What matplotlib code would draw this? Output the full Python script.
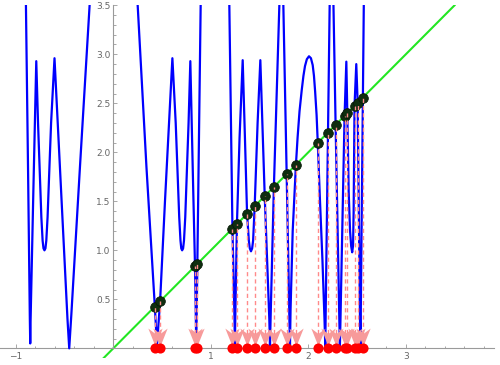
import numpy as np
import matplotlib
matplotlib.use("Agg")
import matplotlib.pyplot as plt
from matplotlib.path import Path
from matplotlib.patches import Rectangle

# ---- data ----
branch_a_x = [-0.896, -0.874, -0.856, -0.852, -0.848, -0.82, -0.79, -0.772, -0.756, -0.738, -0.725,
              -0.716, -0.706, -0.696, -0.687, -0.674, -0.655, -0.638, -0.603, -0.53, -0.47, -0.452,
              -0.43, -0.342, -0.243]
branch_a_y = [3.5, 1.8, 0.3, 0.05, 0.3, 1.6, 2.93, 2.3, 1.85, 1.34, 1.1,
              1.02, 1.0, 1.02, 1.1, 1.34, 1.85, 2.3, 2.96, 1.5, 0.3, 0.0,
              0.35, 1.85, 3.5]

branch_b_x = [0.25, 0.34, 0.426, 0.448, 0.48, 0.53, 0.606, 0.64, 0.657, 0.676, 0.689, 0.697, 0.706,
              0.716, 0.725, 0.738, 0.756, 0.772, 0.79, 0.82, 0.838, 0.851, 0.862, 0.896]
branch_b_y = [3.5, 1.85, 0.426, 0.03, 0.48, 1.5, 2.96, 2.3, 1.85, 1.34, 1.1, 1.02, 1.0,
              1.02, 1.1, 1.34, 1.85, 2.3, 2.93, 1.6, 0.838, 0.03, 0.862, 3.5]

branch_c_x = [1.19, 1.222, 1.243, 1.247, 1.251, 1.268, 1.295, 1.327, 1.35, 1.372, 1.39, 1.40, 1.412,
              1.424, 1.434, 1.45, 1.48, 1.508, 1.553, 1.60, 1.607, 1.613, 1.647, 1.703]
branch_c_y = [3.5, 1.222, 0.3, 0.03, 0.3, 1.268, 2.15, 2.94, 2.15, 1.372, 1.1, 1.02, 0.99,
              1.02, 1.1, 1.45, 2.3, 2.94, 1.553, 0.3, 0.03, 0.3, 1.647, 3.5]

branch_d_x = [1.744, 1.778, 1.806, 1.812, 1.818, 1.84, 1.873, 1.89, 1.91, 1.932, 1.95, 1.966,
              1.985, 2.007, 2.027, 2.045, 2.058, 2.07, 2.085, 2.097, 2.12, 2.145, 2.166, 2.174,
              2.18, 2.202, 2.219]
branch_d_y = [3.5, 1.778, 0.3, 0.03, 0.4, 1.2, 1.873, 2.15, 2.42, 2.63, 2.78, 2.88,
              2.95, 2.98, 2.96, 2.89, 2.78, 2.62, 2.38, 2.097, 1.5, 0.9, 0.3, 0.03,
              0.5, 2.202, 3.5]

branch_e_x = [2.258, 2.28, 2.318, 2.324, 2.33, 2.372, 2.39, 2.40, 2.414, 2.428, 2.44, 2.45,
              2.459, 2.465, 2.474, 2.492, 2.506, 2.53, 2.535, 2.569]
branch_e_y = [3.5, 2.28, 0.3, 0.03, 0.3, 2.372, 2.925, 2.40, 1.6, 1.2, 1.04, 0.98,
              1.05, 1.4, 2.474, 2.9, 2.506, 0.3, 0.03, 3.5]

fixed_points = [0.426, 0.48, 0.838, 0.862, 1.222, 1.268, 1.372, 1.45, 1.553, 1.647,
                1.778, 1.873, 2.097, 2.202, 2.28, 2.372, 2.40, 2.474, 2.506, 2.556]

diag_x = [-0.1, 3.5]          # y = x reference line (plot range)
x_major = [-1, 1, 2, 3]
x_labels = ["\u22121", "1", "2", "3"]
y_major = [0.5, 1.0, 1.5, 2.0, 2.5, 3.0, 3.5]
y_labels = ["0.5", "1.0", "1.5", "2.0", "2.5", "3.0", "3.5"]

# ---- figure ----
fig = plt.figure(figsize=(5.0, 3.65), dpi=100)
ax = fig.add_axes([0, 0, 1, 1])
ax.set_xlim(-1.162, 3.966)
ax.set_ylim(-0.170, 3.554)
ax.patch.set_alpha(0)

clip = Rectangle((-1.2, -0.1), 5.1, 3.6, transform=ax.transData)

ln, = ax.plot(diag_x, diag_x, color="#22e622", lw=1.5, zorder=2)
ln.set_clip_path(clip)

for bx, by in [(branch_a_x, branch_a_y), (branch_b_x, branch_b_y), (branch_c_x, branch_c_y),
               (branch_d_x, branch_d_y), (branch_e_x, branch_e_y)]:
    l, = ax.plot(bx, by, color="#0000ff", lw=1.6, zorder=3, solid_joinstyle="round")
    l.set_clip_path(clip)

fp = np.array(fixed_points)
ax.plot(fp, fp, "o", ms=7, mfc="#0f2e0f", mec="#051505", mew=0.5, zorder=4, ls="none")
ax.vlines(fp, 0, fp, colors="#ff8a8a", linestyles=(0, (3, 2.2)), lw=1.0, zorder=5)

arrow_marker = Path([(0, -0.5), (-0.4, 0.5), (0, 0.2), (0.4, 0.5), (0, -0.5)],
                    [Path.MOVETO, Path.LINETO, Path.LINETO, Path.LINETO, Path.CLOSEPOLY])
ax.scatter(fp, np.full_like(fp, 0.115), marker=arrow_marker, s=165, color="#f79a9a",
           linewidths=0, zorder=6)
ax.plot(fp, np.zeros_like(fp), "o", ms=7.3, mfc="#ff0000", mec="#ff0000", mew=0, zorder=7, ls="none")

# ---- axes styling (Mathematica-like) ----
for s in ["top", "right"]:
    ax.spines[s].set_visible(False)
ax.spines["left"].set_position(("data", 0))
ax.spines["bottom"].set_position(("data", 0))
ax.spines["left"].set_bounds(0, 3.5)
ax.spines["bottom"].set_bounds(-1.162, 3.9)
for s in ["left", "bottom"]:
    ax.spines[s].set_color("#9a9a9a")
    ax.spines[s].set_linewidth(0.8)

ax.set_xticks(x_major)
ax.set_xticklabels(x_labels)
ax.set_xticks(np.arange(-1.0, 3.81, 0.2), minor=True)
ax.set_yticks(y_major)
ax.set_yticklabels(y_labels)
ax.set_yticks(np.arange(0.1, 3.45, 0.1), minor=True)
ax.tick_params(which="both", direction="in", color="#9a9a9a", width=0.6,
               labelsize=6.5, labelcolor="#666666")
ax.tick_params(which="major", length=3.0)
ax.tick_params(which="minor", length=1.8)
ax.tick_params(axis="x", pad=2.5)
ax.tick_params(axis="y", pad=2.0)

fig.savefig("out.png", dpi=100)
